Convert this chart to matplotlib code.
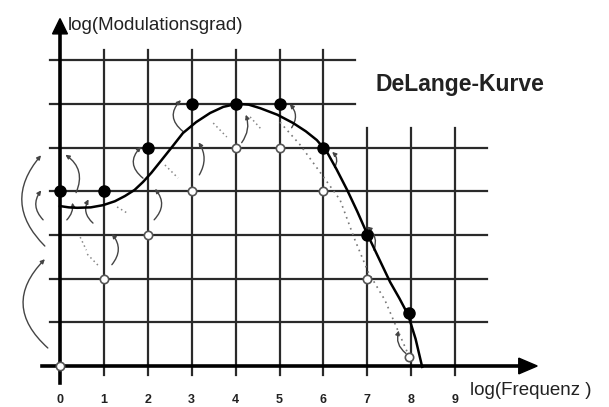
import matplotlib
matplotlib.use("Agg")
import matplotlib.pyplot as plt
from matplotlib.patches import FancyArrowPatch

plt.rcParams['font.family'] = ['Liberation Sans', 'DejaVu Sans']

# grid / axis
tick_pos = [0, 1, 2, 3, 4, 5, 6, 7, 8, 9]
tick_labels = ["0", "1", "2", "3", "4", "5", "6", "7", "8", "9"]
rows = [1, 2, 3, 4, 5, 6, 7]

# measured points (filled = with modulation, open = without)
freq = [0, 1, 2, 3, 4, 5, 6, 7, 7.95]
filled = [4, 4, 5, 6, 6, 6, 5, 3, 1.22]
opened = [0, 2, 3, 4, 5, 5, 4, 2, 0.21]

# DeLange curve (solid)
curve_x = [0, 0.2, 0.39, 0.7, 0.98, 1.25, 1.48, 1.7, 1.89, 2.08, 2.28, 2.55,
           2.80, 3.1, 3.42, 3.72, 4.03, 4.3, 4.56, 4.95, 5.31, 5.6, 5.85,
           6.08, 6.3, 6.54, 6.77, 6.99, 7.25, 7.52, 7.73, 7.93, 8.1, 8.25]
curve_y = [3.66, 3.63, 3.62, 3.63, 3.68, 3.77, 3.89, 4.03, 4.21, 4.42, 4.67, 5.01,
           5.33, 5.58, 5.79, 5.93, 6.00, 5.98, 5.90, 5.75, 5.56, 5.37, 5.17,
           4.90, 4.50, 4.03, 3.54, 3.04, 2.49, 1.92, 1.55, 1.17, 0.62, -0.02]

# dotted curve
dot_x = [5.01, 5.47, 5.92, 6.38, 6.72, 7.02, 7.40, 7.74, 7.97]
dot_y = [5.58, 5.06, 4.44, 3.80, 2.88, 2.15, 1.51, 0.71, 0.18]

# short dashed strokes on the left
dash_x0 = [0.46, 0.62, 1.30, 2.39, 3.49, 4.33]
dash_y0 = [2.95, 2.56, 3.64, 4.60, 5.56, 5.70]
dash_x1 = [0.60, 0.91, 1.53, 2.69, 3.80, 4.60]
dash_y1 = [2.65, 2.26, 3.50, 4.30, 5.24, 5.40]

# curved arrows: start, end, bend
arc_x0 = [-0.30, -0.23, -0.34, 0.34, 0.11, 0.80, 1.14, 1.94, 2.10, 2.85, 3.14, 4.10, 5.24, 6.22, 7.13, 7.93]
arc_y0 = [2.70, 0.37, 3.30, 3.91, 3.30, 3.23, 2.27, 4.26, 3.30, 5.33, 4.32, 5.06, 5.40, 4.49, 2.59, 0.25]
arc_x1 = [-0.39, -0.30, -0.39, 0.07, 0.27, 0.68, 1.14, 1.89, 2.12, 2.80, 3.12, 4.21, 5.19, 6.15, 6.95, 7.74]
arc_y1 = [4.87, 2.49, 4.07, 4.87, 3.80, 3.87, 3.07, 5.06, 4.10, 6.13, 5.17, 5.81, 6.04, 4.94, 3.23, 0.87]
arc_rad = [-0.48, -0.54, -0.47, 0.45, 0.3, -0.45, 0.46, -0.6, 0.5, -0.6, 0.35, 0.3, 0.45, 0.5, 0.4, -0.4]

fig = plt.figure(figsize=(6.09, 4.07), dpi=100)
ax = fig.add_axes([0, 0, 1, 1])
ax.set_xlim(-60 / 43.9, 549 / 43.9)
ax.set_ylim(-41 / 43.7, 366 / 43.7)
ax.axis('off')

gc = '#2a2a2a'
# vertical grid lines
for x in tick_pos[1:]:
    top = 7.23 if x <= 6 else 5.45
    ax.plot([x, x], [-0.2, top], color=gc, lw=1.6, zorder=1)
# horizontal grid lines
for y in rows:
    right = 9.73 if y <= 5 else 6.72
    ax.plot([-0.23, right], [y, y], color=gc, lw=1.6, zorder=1)

# axes with arrows
ax.plot([0, 0], [-0.39, 7.6], color='black', lw=2.6, zorder=2)
ax.plot([-0.41, 10.6], [0, 0], color='black', lw=2.6, zorder=2)
ax.fill([-0.17, 0.17, 0], [7.6, 7.6, 7.95], color='black', zorder=2)
ax.fill([10.45, 10.45, 10.87], [0.18, -0.18, 0], color='black', zorder=2)

# curves
ax.plot(curve_x, curve_y, color='black', lw=1.8, zorder=4)
ax.plot(dot_x, dot_y, color='#777777', lw=1.2, ls=(0, (1, 2.5)), zorder=3)
for i in range(len(dash_x0)):
    ax.plot([dash_x0[i], dash_x1[i]], [dash_y0[i], dash_y1[i]],
            color='#888888', lw=1.1, ls=(0, (1, 2)), zorder=3)

for i in range(len(arc_x0)):
    arr = FancyArrowPatch((arc_x0[i], arc_y0[i]), (arc_x1[i], arc_y1[i]),
                          connectionstyle="arc3,rad=%.2f" % arc_rad[i],
                          arrowstyle='-|>', mutation_scale=6,
                          color='#444444', lw=1.0, zorder=3)
    ax.add_patch(arr)

# points
ax.plot(freq, opened, 'o', ms=6, mfc='white', mec='#555555', mew=1.2, zorder=5)
ax.plot(freq, filled, 'o', ms=8, color='black', zorder=5)

# texts
for x, lab in zip(tick_pos, tick_labels):
    ax.text(x, -0.78, lab, ha='center', va='center', fontsize=9, fontweight='bold', color='#222222')
ax.text(0.18, 7.80, "log(Modulationsgrad)", ha='left', va='center', fontsize=13.5, color='#222222')
ax.text(7.18, 6.45, "DeLange-Kurve", ha='left', va='center', fontsize=16.5, fontweight='bold', color='#222222')
ax.text(9.34, -0.55, "log(Frequenz )", ha='left', va='center', fontsize=13.5, color='#222222')

fig.savefig("out.png", dpi=100)
